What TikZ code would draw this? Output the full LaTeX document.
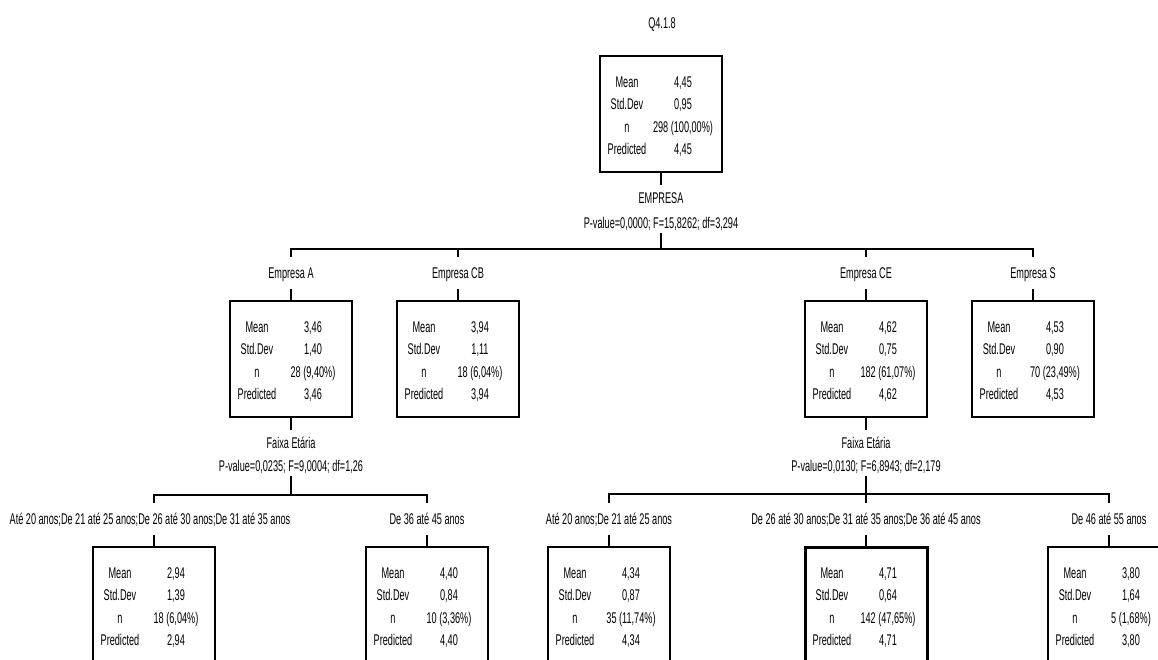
\documentclass[tikz,border=0pt]{standalone}
\usepackage{fontspec}
\setmainfont[FakeStretch=0.59]{Liberation Sans}
\usetikzlibrary{calc}
\tikzset{
  sbox/.style={draw, line width=1.1pt, minimum width=122pt, minimum height=116pt, inner sep=0pt},
  hibox/.style={line width=3pt},
  txt/.style={inner sep=0pt, text height=11pt, text depth=0pt, font=\fontsize{15.5}{17}\selectfont},
  splitlbl/.style={txt, inner xsep=0pt, inner ysep=7.5pt},
  pvlbl/.style={txt, inner xsep=0pt, inner ysep=4.5pt},
  brlbl/.style={txt, inner xsep=0pt, inner ysep=10.5pt},
  conn/.style={line width=1.1pt}
}
\newcommand\statbox[8]{%
  \node[sbox,#8] (#1) at (#2,#3) {};
  \node[txt] (#1-m) at ([shift={(-34,-32)}]#1.center) {Mean};
  \node[txt] (#1-s) at ([shift={(-34,-10)}]#1.center) {Std.Dev};
  \node[txt] (#1-n) at ([shift={(-34,13)}]#1.center) {n};
  \node[txt] (#1-p) at ([shift={(-34,35)}]#1.center) {Predicted};
  \node[txt] (#1-mv) at ([shift={(22,-32)}]#1.center) {#4};
  \node[txt] (#1-sv) at ([shift={(22,-10)}]#1.center) {#5};
  \node[txt] (#1-nv) at ([shift={(22,13)}]#1.center) {#6};
  \node[txt] (#1-pv) at ([shift={(22,35)}]#1.center) {#7};
}
\begin{document}
\begin{tikzpicture}[x=1pt,y=-1pt]
\fill[white] (0,0) rectangle (1158,659);
\useasboundingbox (0,0) rectangle (1158,659);
\clip (0,0) rectangle (1158,659);

\node[txt] (title) at (662,23) {Q4.1.8};

% root
\statbox{root}{661}{114}{4,45}{0,95}{298 (100,00\%)}{4,45}{}
\node[splitlbl] (s1) at (661,198) {EMPRESA};
\node[pvlbl] (p1) at (661,223) {P-value=0,0000; F=15,8262; df=3,294};
\coordinate (b1) at (661,249);
\draw[conn] (root.south) -- (s1.north);
\draw[conn] (p1.south) -- (b1);

% level 2 labels
\node[brlbl] (lA) at (291,273) {Empresa A};
\node[brlbl] (lCB) at (458,273) {Empresa CB};
\node[brlbl] (lCE) at (866,273) {Empresa CE};
\node[brlbl] (lS) at (1033,273) {Empresa S};
\draw[conn] (b1) -| (lA.north);
\draw[conn] (b1) -| (lS.north);
\draw[conn] (b1) -| (lCB.north);
\draw[conn] (b1) -| (lCE.north);

\statbox{A}{291}{359}{3,46}{1,40}{28 (9,40\%)}{3,46}{}
\statbox{CB}{458}{359}{3,94}{1,11}{18 (6,04\%)}{3,94}{}
\statbox{CE}{866}{359}{4,62}{0,75}{182 (61,07\%)}{4,62}{}
\statbox{S}{1033}{359}{4,53}{0,90}{70 (23,49\%)}{4,53}{}
\draw[conn] (lA.south) -- (A.north);
\draw[conn] (lCB.south) -- (CB.north);
\draw[conn] (lCE.south) -- (CE.north);
\draw[conn] (lS.south) -- (S.north);

% split of A
\node[splitlbl] (sA) at (291,443) {Faixa Etária};
\node[pvlbl] (pA) at (291,466) {P-value=0,0235; F=9,0004; df=1,26};
\coordinate (bA) at (291,495);
\draw[conn] (A.south) -- (sA.north);
\draw[conn] (pA.south) -- (bA);
\node[brlbl] (lA1) at (150,519) {Até 20 anos;De 21 até 25 anos;De 26 até 30 anos;De 31 até 35 anos};
\node[brlbl] (lA2) at (427,519) {De 36 até 45 anos};
\coordinate (lA1t) at (154,503);
\coordinate (lA1b) at (154,535);
\draw[conn] (bA) -| (lA1t);
\draw[conn] (bA) -| (lA2.north);
\statbox{A1}{154}{605}{2,94}{1,39}{18 (6,04\%)}{2,94}{}
\statbox{A2}{427}{605}{4,40}{0,84}{10 (3,36\%)}{4,40}{}
\draw[conn] (lA1b) -- (A1.north);
\draw[conn] (lA2.south) -- (A2.north);

% split of CE
\node[splitlbl] (sCE) at (866,443) {Faixa Etária};
\node[pvlbl] (pCE) at (866,466) {P-value=0,0130; F=6,8943; df=2,179};
\coordinate (bCE) at (866,494);
\draw[conn] (CE.south) -- (sCE.north);
\draw[conn] (pCE.south) -- (bCE);
\node[brlbl] (lC1) at (609,519) {Até 20 anos;De 21 até 25 anos};
\node[brlbl] (lC2) at (866,519) {De 26 até 30 anos;De 31 até 35 anos;De 36 até 45 anos};
\node[brlbl] (lC3) at (1109,519) {De 46 até 55 anos};
\draw[conn] (bCE) -| (lC1.north);
\draw[conn] (bCE) -| (lC3.north);
\draw[conn] (bCE) -- (lC2.north);
\statbox{C1}{609}{605}{4,34}{0,87}{35 (11,74\%)}{4,34}{}
\statbox{C2}{866}{605}{4,71}{0,64}{142 (47,65\%)}{4,71}{hibox}
\statbox{C3}{1109}{605}{3,80}{1,64}{5 (1,68\%)}{3,80}{}
\draw[conn] (lC1.south) -- (C1.north);
\draw[conn] (lC2.south) -- (C2.north);
\draw[conn] (lC3.south) -- (C3.north);
\end{tikzpicture}
\end{document}
